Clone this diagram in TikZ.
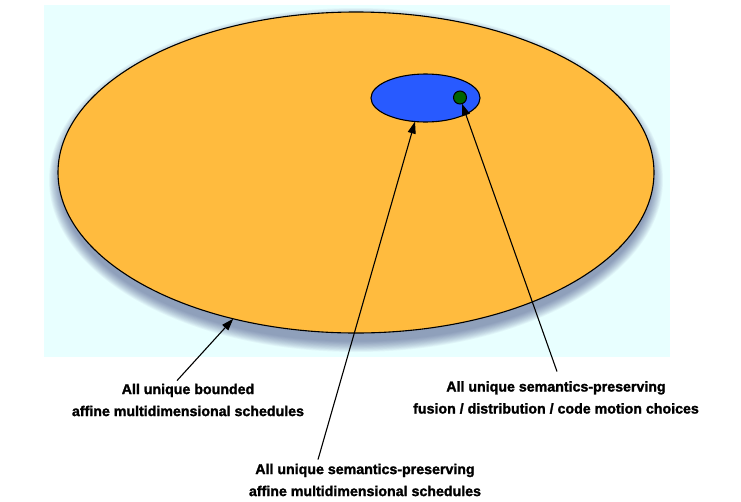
\documentclass[tikz,border=0pt]{standalone}
\usepackage{fontspec}
\setmainfont{Liberation Sans}
\newfontfamily\labelfont{Liberation Sans Bold}[FakeBold=1.6]
\usetikzlibrary{arrows.meta,shapes.geometric}
\definecolor{bgcyan}{RGB}{232,255,255}
\definecolor{orangefill}{RGB}{255,187,62}
\definecolor{bluefill}{RGB}{40,90,255}
\definecolor{greenfill}{RGB}{0,100,0}
\definecolor{shadowcol}{RGB}{50,60,120}
\begin{document}
\begin{tikzpicture}[x=1pt,y=-1pt,
  region/.style={ellipse, draw=black, line width=1.1pt, inner sep=0pt, outer sep=0pt},
  txtlabel/.style={font=\labelfont\fontsize{14.2}{22}\selectfont, align=center, inner sep=0pt},
  pointer/.style={-{Triangle[length=12pt,width=8pt]}, line width=1.1pt}]
\useasboundingbox (0,0) rectangle (741,501);
\fill[bgcyan] (44,5) rectangle (670,357);
\foreach \i in {0,...,13} {
  \fill[shadowcol, opacity=0.045] (356,180) ellipse [x radius={307-\i*0.8}, y radius={172-\i*0.8}];
}
\node[region, fill=orangefill, minimum width=596pt, minimum height=321pt] (all) at (356,172.5) {};
\node[region, fill=bluefill, minimum width=109pt, minimum height=48pt] (sem) at (425.5,98) {};
\node[circle, draw=black, fill=greenfill, line width=1pt, minimum size=13pt, inner sep=0pt, outer sep=0pt] (fus) at (460,97.5) {};
\node[txtlabel] (t1) at (188,400) {All unique bounded\\affine multidimensional schedules};
\node[txtlabel] (t2) at (556,397.5) {All unique semantics-preserving\\fusion / distribution / code motion choices};
\node[txtlabel] (t3) at (365,480) {All unique semantics-preserving\\affine multidimensional schedules};
\draw[pointer] ([xshift=-11pt,yshift=3pt]t1.north) -- (all.230);
\draw[pointer] ([xshift=-47pt,yshift=4pt]t3.north) -- (sem.246);
\draw[pointer] ([xshift=1pt,yshift=9.5pt]t2.north) -- (fus.288);
\end{tikzpicture}
\end{document}
